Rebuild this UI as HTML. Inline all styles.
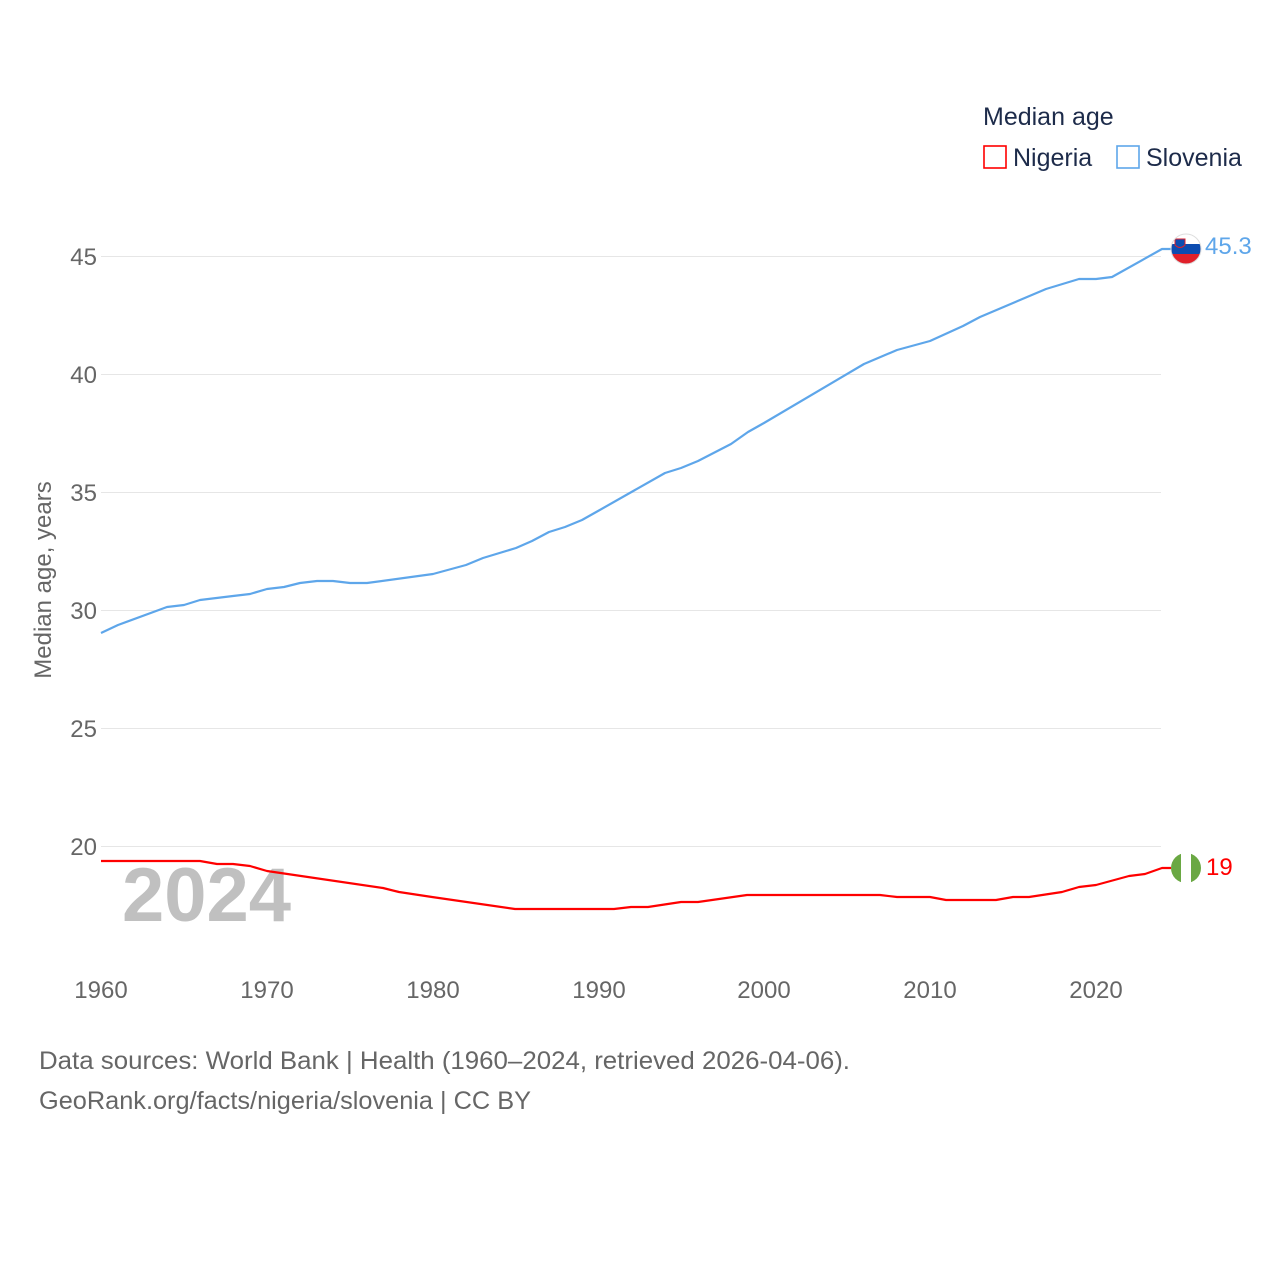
<!DOCTYPE html>
<html><head><meta charset="utf-8"><style>
html,body{margin:0;padding:0;background:#fff;}
svg{display:block;font-family:"Liberation Sans",Lato,sans-serif;}
</style></head><body>
<svg width="1280" height="1280" viewBox="0 0 1280 1280" xmlns="http://www.w3.org/2000/svg">
<rect width="1280" height="1280" fill="#fff"/>
<g stroke="#e6e6e6" stroke-width="1">
<line x1="101" x2="1161" y1="256.5" y2="256.5"/>
<line x1="101" x2="1161" y1="374.5" y2="374.5"/>
<line x1="101" x2="1161" y1="492.5" y2="492.5"/>
<line x1="101" x2="1161" y1="610.5" y2="610.5"/>
<line x1="101" x2="1161" y1="728.5" y2="728.5"/>
<line x1="101" x2="1161" y1="846.5" y2="846.5"/>
</g>
<g fill="#666" font-size="24" text-anchor="end">
<text x="97" y="265">45</text><text x="97" y="383">40</text><text x="97" y="501">35</text>
<text x="97" y="619">30</text><text x="97" y="737">25</text><text x="97" y="855">20</text>
</g>
<g fill="#666" font-size="24" text-anchor="middle">
<text x="101" y="998">1960</text><text x="267" y="998">1970</text><text x="433" y="998">1980</text>
<text x="599" y="998">1990</text><text x="764" y="998">2000</text><text x="930" y="998">2010</text>
<text x="1096" y="998">2020</text>
</g>
<text transform="translate(51,580) rotate(-90)" fill="#666" font-size="24" text-anchor="middle">Median age, years</text>
<text x="122" y="921" fill="#c0c0c0" font-size="76" font-weight="bold">2024</text>
<polyline fill="none" stroke="#5ea6ea" stroke-width="2.2" stroke-linejoin="round" points="101,633 118,625 167,607 184,605 200,600 233,596 250,594 267,589 284,587 300,583 317,581 333,581 350,583 367,583 433,574 466,565 483,558 516,548 532,541 549,532 565,527 582,520 598,511 665,473 681,468 698,461 731,444 748,432 764,423 864,364 897,350 930,341 963,326 980,317 1046,289 1079,279 1096,279 1112,277 1162,249 1172,249"/>
<polyline fill="none" stroke="#f00" stroke-width="2.2" stroke-linejoin="round" points="101,861 200,861 217,864 233,864 250,866 267,871 383,888 399,892 432,897 515,909 614,909 631,907 648,907 681,902 698,902 747,895 880,895 897,897 930,897 946,900 996,900 1013,897 1029,897 1062,892 1079,887 1096,885 1129,876 1145,874 1162,868 1172,868"/>
<defs><clipPath id="c1"><circle cx="1186" cy="249" r="15"/></clipPath><clipPath id="c2"><circle cx="1186" cy="868" r="15"/></clipPath></defs>
<g clip-path="url(#c1)"><rect x="1170" y="233" width="32" height="11" fill="#fff"/><rect x="1170" y="244" width="32" height="10" fill="#0c4cb0"/><rect x="1170" y="254" width="32" height="11" fill="#e0202a"/><path d="M1175 239 h10 v6 q-5 5 -10 0z" fill="#0c4cb0" stroke="#e0202a" stroke-width="1"/></g>
<circle cx="1186" cy="249" r="15" fill="none" stroke="#ddd" stroke-width="1"/>
<g clip-path="url(#c2)"><rect x="1170" y="852" width="32" height="32" fill="#fff"/><rect x="1170" y="852" width="11" height="32" fill="#6aa843"/><rect x="1191" y="852" width="11" height="32" fill="#6aa843"/></g>
<text x="1205" y="254" fill="#5ea6ea" font-size="24">45.3</text>
<text x="1206" y="875" fill="#f00" font-size="24">19</text>
<text x="983" y="125" fill="#1d2b4a" font-size="25">Median age</text>
<rect x="984" y="146" width="22" height="22" fill="none" stroke="#f00" stroke-width="1.6"/>
<text x="1013" y="166" fill="#1d2b4a" font-size="25">Nigeria</text>
<rect x="1117" y="146" width="22" height="22" fill="none" stroke="#5ea6ea" stroke-width="1.6"/>
<text x="1146" y="166" fill="#1d2b4a" font-size="25">Slovenia</text>
<text x="39" y="1069" fill="#666" font-size="25" textLength="811" lengthAdjust="spacingAndGlyphs">Data sources: World Bank | Health (1960–2024, retrieved 2026-04-06).</text>
<text x="39" y="1109" fill="#666" font-size="25" textLength="492" lengthAdjust="spacingAndGlyphs">GeoRank.org/facts/nigeria/slovenia | CC BY</text>
</svg>
</body></html>
